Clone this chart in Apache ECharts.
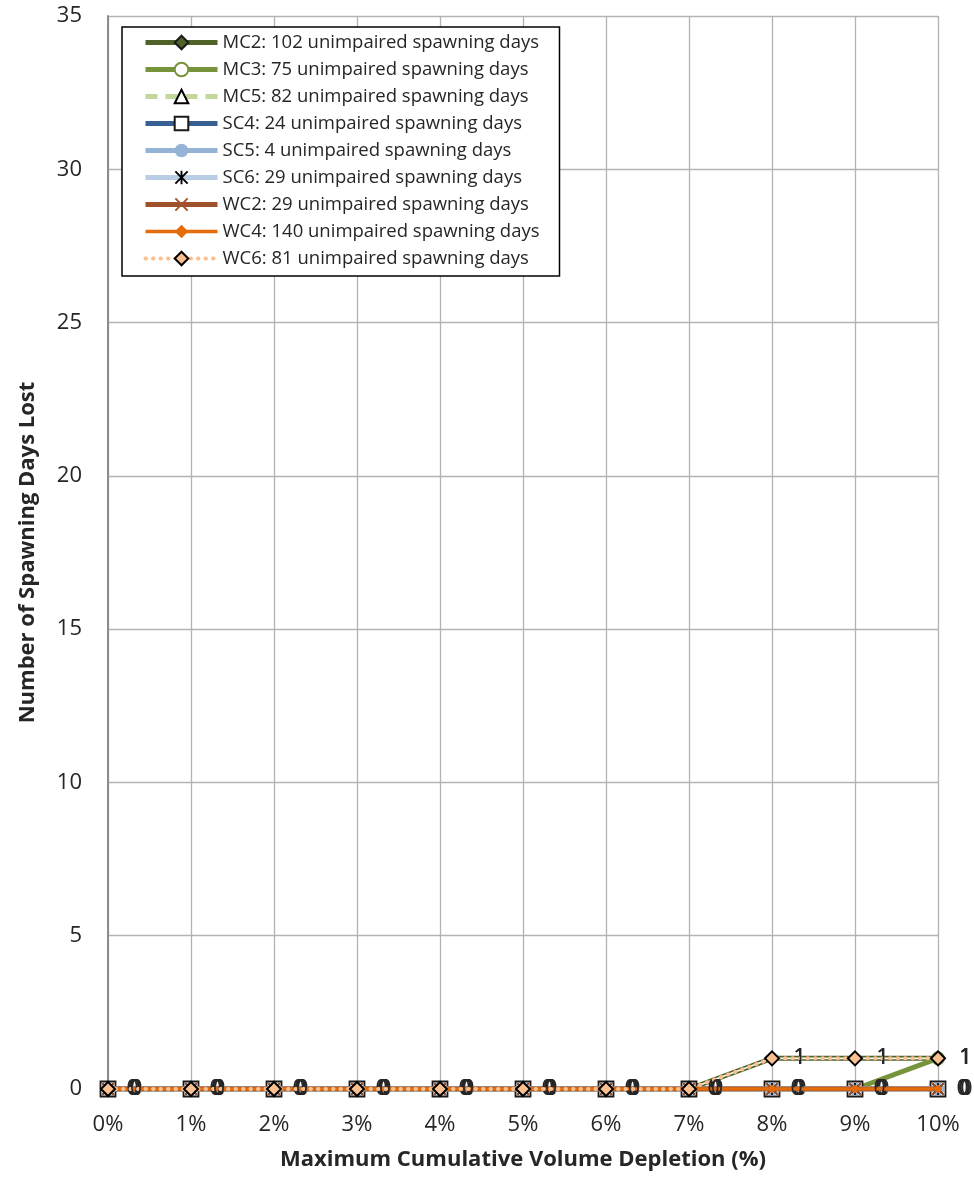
<!DOCTYPE html>
<html><head><meta charset="utf-8">
<script src="https://cdn.jsdelivr.net/npm/echarts@6/dist/echarts.min.js"></script>
<style>html,body{margin:0;padding:0;background:#fff}#c{width:974px;height:1179px}</style>
</head><body><div id="c"></div>
<script>
const categories = ['0%','1%','2%','3%','4%','5%','6%','7%','8%','9%','10%'];
const seriesNames = [
  'MC2: 102 unimpaired spawning days',
  'MC3: 75 unimpaired spawning days',
  'MC5: 82 unimpaired spawning days',
  'SC4: 24 unimpaired spawning days',
  'SC5: 4 unimpaired spawning days',
  'SC6: 29 unimpaired spawning days',
  'WC2: 29 unimpaired spawning days',
  'WC4: 140 unimpaired spawning days',
  'WC6: 81 unimpaired spawning days'
];
const mc2 = [0,0,0,0,0,0,0,0,1,1,1];
const mc3 = [0,0,0,0,0,0,0,0,0,0,1];
const mc5 = [0,0,0,0,0,0,0,0,0,0,0];
const sc4 = [0,0,0,0,0,0,0,0,0,0,0];
const sc5 = [0,0,0,0,0,0,0,0,0,0,0];
const sc6 = [0,0,0,0,0,0,0,0,0,0,0];
const wc2 = [0,0,0,0,0,0,0,0,0,0,0];
const wc4 = [0,0,0,0,0,0,0,0,0,0,0];
const wc6 = [0,0,0,0,0,0,0,0,1,1,1];
const yTicks = [0,5,10,15,20,25,30,35];

const FONT = '"Open Sans", "Liberation Sans", sans-serif';
const xPath = 'path://M0,1 L1,0 L5,4 L9,0 L10,1 L6,5 L10,9 L9,10 L5,6 L1,10 L0,9 L4,5 Z';
const starPath = 'path://M0,1 L1,0 L5,4 L9,0 L10,1 L6,5 L10,9 L9,10 L5,6 L1,10 L0,9 L4,5 Z M4.3,0 L5.7,0 L5.7,10 L4.3,10 Z';

function lbl(){
  return {show:true, position:'right', distance:14, color:'#262626', fontSize:21, fontFamily:FONT,
    formatter: p => String(p.value)};
}
function inner(name, data, z){
  return {name: name + ' inner', type:'line', data, silent:true, z, showSymbol:false, symbol:'none',
    lineStyle:{color:'#fff', width:1.6}, legendHoverLink:false, tooltip:{show:false}};
}

const series = [
  {name:seriesNames[0], type:'line', data:mc2, z:2, symbol:'diamond', symbolSize:13,
   itemStyle:{color:'#4F6228', borderColor:'#1a1a1a', borderWidth:1.5},
   lineStyle:{color:'#4F6228', width:5}, label:lbl()},
  inner('MC2', mc2, 2.1),
  {name:seriesNames[1], type:'line', data:mc3, z:3, symbol:'emptyCircle', symbolSize:12,
   itemStyle:{color:'#77933C', borderColor:'#77933C', borderWidth:1.5},
   lineStyle:{color:'#77933C', width:5}, label:lbl()},
  {name:seriesNames[2], type:'line', data:mc5, z:4, symbol:'triangle', symbolSize:12,
   itemStyle:{color:'#fff', borderColor:'#000', borderWidth:1.5},
   lineStyle:{color:'#C3D69B', width:5, type:[12,8]}, label:lbl()},
  {name:seriesNames[3], type:'line', data:sc4, z:5, symbol:'rect', symbolSize:15,
   itemStyle:{color:'#fff', borderColor:'#1a1a1a', borderWidth:1.8},
   lineStyle:{color:'#376092', width:5}, label:lbl()},
  {name:seriesNames[4], type:'line', data:sc5, z:6, symbol:'circle', symbolSize:13,
   itemStyle:{color:'#95B3D7', borderColor:'#95B3D7', borderWidth:0},
   lineStyle:{color:'#95B3D7', width:5}, label:lbl()},
  inner('SC5', sc5, 6.1),
  {name:seriesNames[5], type:'line', data:sc6, z:7, symbol:starPath, symbolSize:12,
   itemStyle:{color:'#000', borderWidth:0},
   lineStyle:{color:'#B9CDE5', width:5}, label:lbl()},
  {name:seriesNames[6], type:'line', data:wc2, z:8, symbol:xPath, symbolSize:13,
   itemStyle:{color:'#A0522D', borderWidth:0},
   lineStyle:{color:'#A0522D', width:5}, label:lbl()},
  inner('WC2', wc2, 8.1),
  {name:seriesNames[7], type:'line', data:wc4, z:9, symbol:'diamond', symbolSize:9,
   itemStyle:{color:'#E46C0A', borderWidth:0},
   lineStyle:{color:'#E46C0A', width:3.5}, label:lbl()},
  {name:seriesNames[8], type:'line', data:wc6, z:10, symbol:'diamond', symbolSize:14,
   itemStyle:{color:'#FAC090', borderColor:'#000', borderWidth:2},
   lineStyle:{color:'#FAC090', width:4, type:[0.5,7], cap:'round'}, label:lbl()}
];

const chart = echarts.init(document.getElementById('c'), null, {renderer:'canvas'});
chart.setOption({
  animation:false,
  backgroundColor:'#fff',
  textStyle:{fontFamily:FONT},
  grid:{left:108, right:36, top:16, bottom:90, containLabel:false},
  legend:{
    orient:'vertical', left:122, top:27,
    data: seriesNames,
    backgroundColor:'#fff', borderColor:'#000', borderWidth:1.5,
    padding:[6, 20, 8, 21], itemGap:8, itemWidth:72, itemHeight:17,
    lineStyle:{width:'inherit'},
    textStyle:{fontSize:18.5, lineHeight:18, color:'#262626', fontFamily:FONT}
  },
  xAxis:{
    type:'category', data:categories, boundaryGap:false,
    name:'Maximum Cumulative Volume Depletion (%)', nameLocation:'middle', nameGap:60,
    nameTextStyle:{fontSize:22, fontWeight:'bold', color:'#262626', fontFamily:FONT},
    axisLine:{show:true, lineStyle:{color:'#8c8c8c', width:2}},
    axisTick:{show:false},
    axisLabel:{fontSize:22, color:'#262626', margin:25, fontFamily:FONT},
    splitLine:{show:true, lineStyle:{color:'#b3b3b3', width:1.3}}
  },
  yAxis:{
    type:'value', min:0, max:35, interval:5,
    name:'Number of Spawning Days Lost', nameLocation:'middle', nameGap:69, nameRotate:90,
    nameTextStyle:{fontSize:22, fontWeight:'bold', color:'#262626', fontFamily:FONT},
    axisLine:{show:true, lineStyle:{color:'#8c8c8c', width:2}},
    axisTick:{show:false},
    axisLabel:{fontSize:22, color:'#262626', margin:26, fontFamily:FONT,
      formatter: v => yTicks.includes(v) ? String(v) : ''},
    splitLine:{show:true, lineStyle:{color:'#b3b3b3', width:1.3}}
  },
  series
});
</script>
</body></html>
